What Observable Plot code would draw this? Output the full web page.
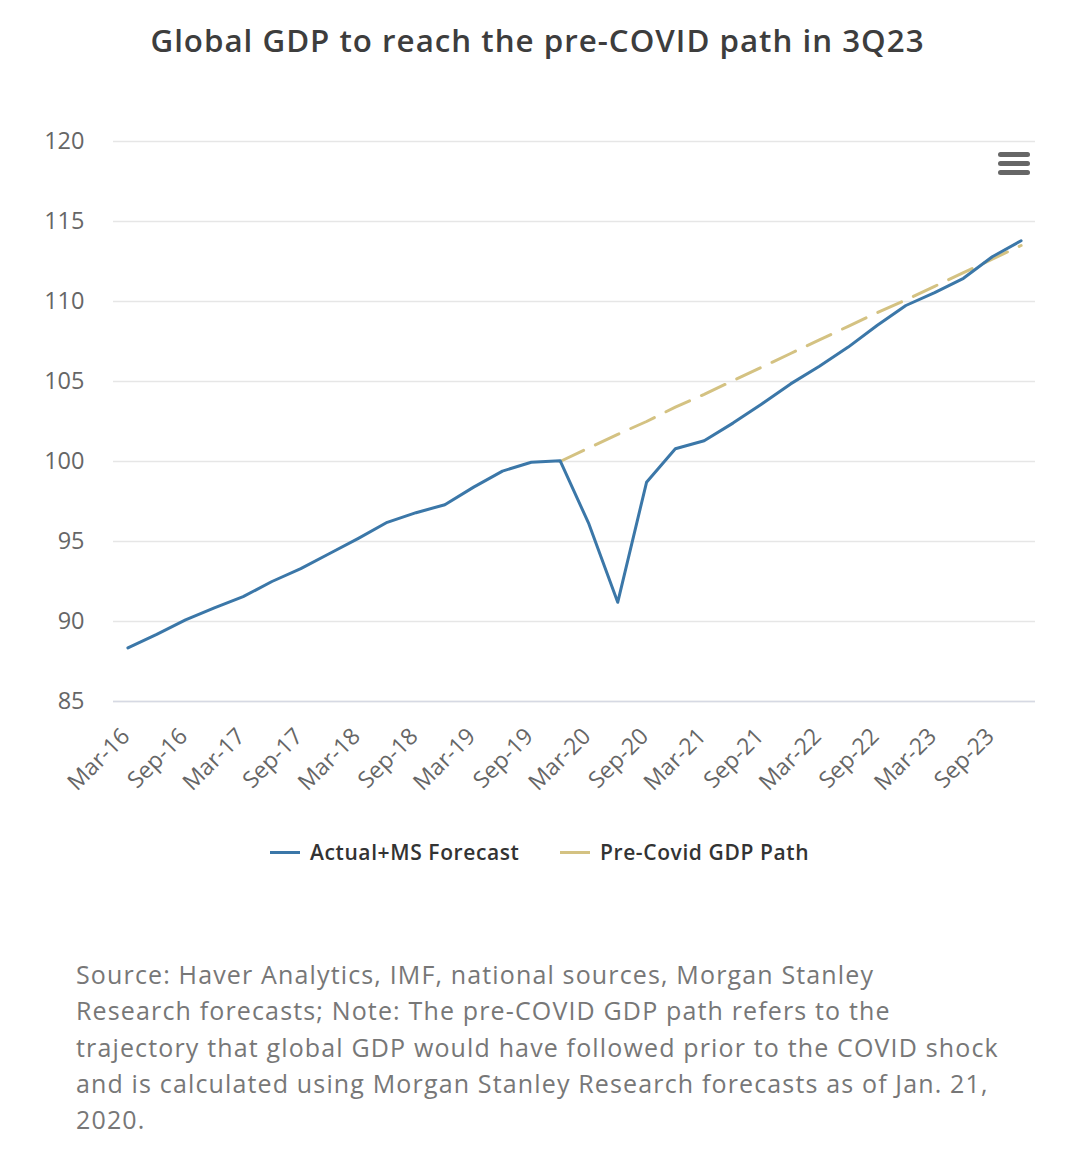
<!DOCTYPE html>
<html>
<head>
<meta charset="utf-8">
<script src="https://cdn.jsdelivr.net/npm/d3@7"></script>
<script src="https://cdn.jsdelivr.net/npm/@observablehq/plot@0.6"></script>
<style>
  html, body { margin: 0; padding: 0; background: #ffffff; }
  body { width: 1080px; height: 1154px; position: relative; overflow: hidden; font-family: "Open Sans", Lato, sans-serif; }
  #title { position: absolute; top: 19px; left: 0; width: 1075px; text-align: center; font-size: 31.3px; font-weight: 600; color: #3d3d3d; letter-spacing: 1px; }
  #chart { position: absolute; top: 100px; left: 0; }
  #menu { position: absolute; left: 998px; top: 152px; width: 32px; }
  #menu div { height: 5px; border-radius: 3px; background: #666; margin-bottom: 4px; }
  #legend { position: absolute; top: 837px; left: 0; width: 1080px; height: 30px; font-size: 21px; font-weight: 600; color: #333; letter-spacing: 0.6px; }
  .item { position: absolute; top: 0; display: flex; align-items: center; height: 30px; }
  .sym { width: 30px; height: 3px; margin-right: 10px; }
  #caption { position: absolute; top: 956px; left: 76px; width: 1000px; font-size: 25px; line-height: 36.3px; color: #777; letter-spacing: 1.15px; }
</style>
</head>
<body>
<div id="title">Global GDP to reach the pre-COVID path in 3Q23</div>
<div id="menu"><div></div><div></div><div></div></div>
<div id="chart"></div>
<div id="legend"></div>
<div id="caption">Source: Haver Analytics, IMF, national sources, Morgan Stanley<br>Research forecasts; Note: The pre-COVID GDP path refers to the<br>trajectory that global GDP would have followed prior to the COVID shock<br>and is calculated using Morgan Stanley Research forecasts as of Jan. 21,<br>2020.</div>
<script>
// Quarter categories
const quarters = [
  "Mar-16","Jun-16","Sep-16","Dec-16",
  "Mar-17","Jun-17","Sep-17","Dec-17",
  "Mar-18","Jun-18","Sep-18","Dec-18",
  "Mar-19","Jun-19","Sep-19","Dec-19",
  "Mar-20","Jun-20","Sep-20","Dec-20",
  "Mar-21","Jun-21","Sep-21","Dec-21",
  "Mar-22","Jun-22","Sep-22","Dec-22",
  "Mar-23","Jun-23","Sep-23","Dec-23"
];
// Actual + MS Forecast (index, 4Q19 = 100)
const actualForecast = [
  88.35, 89.2, 90.1, 90.85,
  91.55, 92.5, 93.3, 94.25,
  95.2, 96.2, 96.8, 97.3,
  98.4, 99.4, 99.95, 100.05,
  96.1, 91.2, 98.7, 100.8,
  101.3, 102.4, 103.6, 104.85,
  105.95, 107.15, 108.5, 109.75,
  110.55, 111.45, 112.8, 113.8
];
// Pre-Covid GDP path (from Dec-19 onwards)
const pathQuarters = quarters.slice(15);
const preCovidPath = [
  100.0, 100.85, 101.7, 102.5,
  103.4, 104.2, 105.05, 105.9,
  106.75, 107.6, 108.45, 109.3,
  110.1, 110.95, 111.8, 112.65,
  113.5
];
const yTicks = [85, 90, 95, 100, 105, 110, 115, 120];
const xTicks = quarters.filter((d, i) => i % 2 === 0);
const seriesNames = ["Actual+MS Forecast", "Pre-Covid GDP Path"];
const seriesColors = ["#3b77a8", "#d4c282"];

const actualData = quarters.map((q, i) => ({q, v: actualForecast[i]}));
const pathData = pathQuarters.map((q, i) => ({q, v: preCovidPath[i]}));

const chart = Plot.plot({
  width: 1080,
  height: 720,
  marginLeft: 113,
  marginRight: 45,
  marginTop: 41,
  marginBottom: 119,
  style: { fontFamily: "'Open Sans', Lato, sans-serif", background: "transparent" },
  x: { type: "point", domain: quarters, padding: 0.5, round: false },
  y: { domain: [85, 120] },
  marks: [
    Plot.gridY(yTicks, { stroke: "#e6e6e6", strokeOpacity: 1, strokeWidth: 1.5 }),
    Plot.ruleY([85], { stroke: "#d6d9e3", strokeWidth: 1.5 }),
    Plot.axisY(yTicks, { tickSize: 0, tickPadding: 29, fontSize: 23.5, fill: "#666", label: null }),
    Plot.axisX(xTicks, { tickSize: 0, tickRotate: -45, tickPadding: 31, fontSize: 23, fill: "#666", label: null, dx: -2 }),
    Plot.line(pathData, { x: "q", y: "v", stroke: seriesColors[1], strokeWidth: 3, strokeDasharray: "26,13" }),
    Plot.line(actualData, { x: "q", y: "v", stroke: seriesColors[0], strokeWidth: 3, strokeLinejoin: "round" })
  ]
});
document.getElementById("chart").appendChild(chart);

// Legend
const legend = document.getElementById("legend");
const lefts = [270, 560];
seriesNames.forEach((name, i) => {
  const item = document.createElement("div");
  item.className = "item";
  item.style.left = lefts[i] + "px";
  const sym = document.createElement("div");
  sym.className = "sym";
  sym.style.background = seriesColors[i];
  const txt = document.createElement("span");
  txt.textContent = name;
  item.appendChild(sym);
  item.appendChild(txt);
  legend.appendChild(item);
});
</script>
</body>
</html>
